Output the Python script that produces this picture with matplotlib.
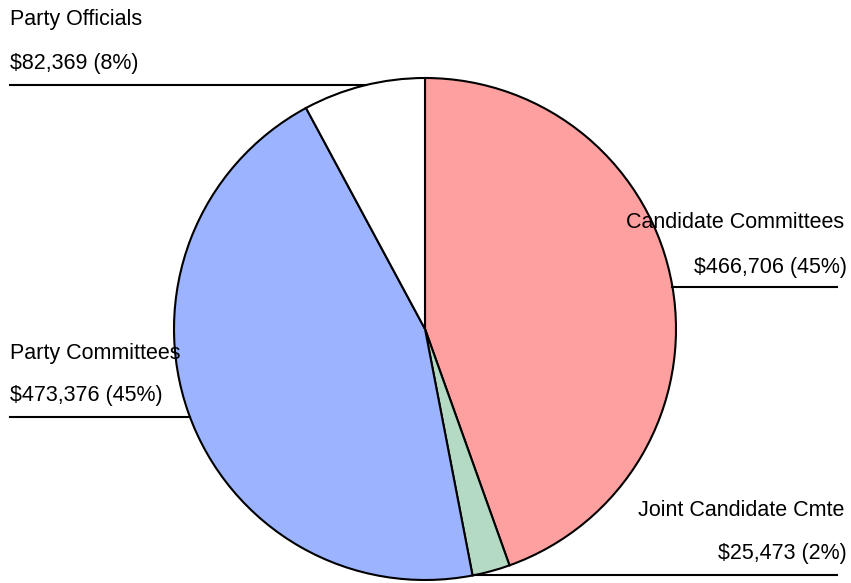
import matplotlib.pyplot as plt
import numpy as np

plt.rcParams['font.family'] = ['Liberation Sans', 'DejaVu Sans']

labels = ['Candidate Committees', 'Joint Candidate Cmte', 'Party Committees', 'Party Officials']
amounts = [466706, 25473, 473376, 82369]
colors = ['#ffa0a0', '#b4dac4', '#9cb4ff', '#ffffff']

W, H = 851, 583
cx, cy, r = 425, H - 329, 251

fig = plt.figure(figsize=(W / 100, H / 100), dpi=100)
ax = fig.add_axes([0, 0, 1, 1])

ax.pie(amounts, colors=colors, startangle=90, counterclock=False,
       center=(cx, cy), radius=r, frame=True,
       wedgeprops=dict(edgecolor='black', linewidth=1.5))
ax.set_xlim(0, W)
ax.set_ylim(0, H)
ax.set_aspect('equal')
ax.axis('off')

total = sum(amounts)
# label layout: (name y, value y, line y, side) in pixel rows from top
layout = {
    'Candidate Committees': (222, 267, 287, 'right'),
    'Joint Candidate Cmte': (510, 553, 575, 'right'),
    'Party Committees': (353, 395, 417, 'left'),
    'Party Officials': (20, 64, 85, 'left'),
}

fs = 15.5
for name, amt in zip(labels, amounts):
    ny, vy, ly, side = layout[name]
    pct = amt / total * 100
    val = f"${amt:,} ({pct:.0f}%)"
    yl = H - ly
    dx = np.sqrt(max(r ** 2 - (yl - cy) ** 2, 0))
    if side == 'left':
        ax.text(10, H - ny, name, ha='left', va='center', fontsize=fs)
        ax.text(10, H - vy, val, ha='left', va='center', fontsize=fs)
        ax.plot([10, cx - dx], [yl, yl], color='black', lw=1.5)
    else:
        ax.text(844, H - ny, name, ha='right', va='center', fontsize=fs)
        ax.text(847, H - vy, val, ha='right', va='center', fontsize=fs)
        ax.plot([cx + dx, 837], [yl, yl], color='black', lw=1.5)

fig.savefig('out.png', dpi=100)
